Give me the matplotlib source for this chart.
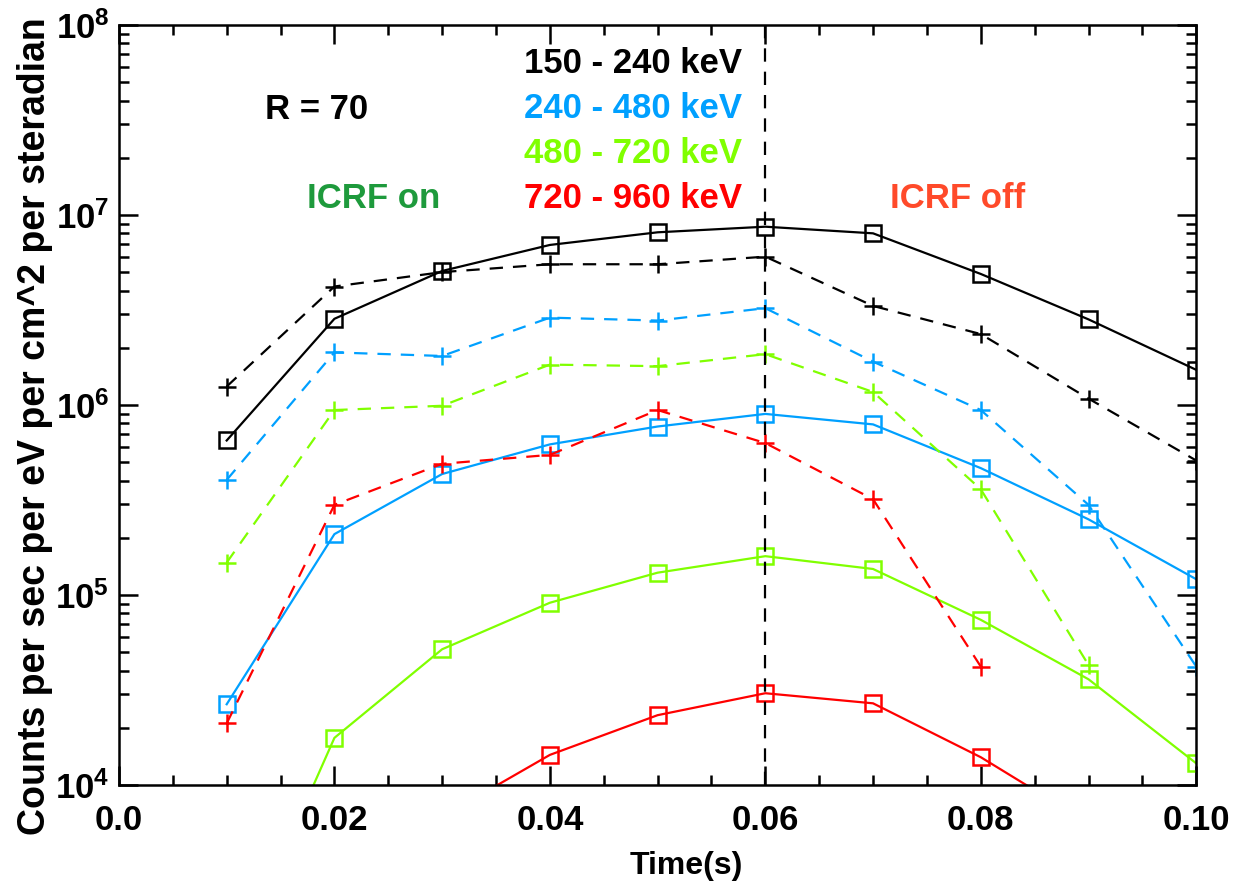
import matplotlib.pyplot as plt
import numpy as np
from matplotlib.ticker import MultipleLocator, LogLocator

plt.rcParams['font.family'] = ['Liberation Sans', 'DejaVu Sans']
plt.rcParams['font.weight'] = 'bold'
plt.rcParams['mathtext.default'] = 'bf'

time = np.array([0.01, 0.02, 0.03, 0.04, 0.05, 0.06, 0.07, 0.08, 0.09, 0.10])

# solid lines with squares
sq_150_240 = [6.5e5, 2.84e6, 5.07e6, 6.95e6, 8.1e6, 8.67e6, 8.0e6, 4.89e6, 2.82e6, 1.53e6]
sq_240_480 = [2.66e4, 2.09e5, 4.33e5, 6.2e5, 7.7e5, 8.97e5, 7.9e5, 4.65e5, 2.5e5, 1.21e5]
sq_480_720 = [9.3e2, 1.77e4, 5.18e4, 9.1e4, 1.31e5, 1.6e5, 1.37e5, 7.4e4, 3.6e4, 1.3e4]
sq_720_960 = [5e2, 2e3, 6.8e3, 1.44e4, 2.33e4, 3.04e4, 2.69e4, 1.4e4, 6.3e3, 2.5e3]

# dashed lines with plus markers
pl_150_240 = [1.25e6, 4.2e6, 5.0e6, 5.5e6, 5.5e6, 6.03e6, 3.32e6, 2.36e6, 1.08e6, 5.1e5]
pl_240_480 = [4.03e5, 1.89e6, 1.81e6, 2.88e6, 2.78e6, 3.23e6, 1.69e6, 9.4e5, 2.98e5, 4.2e4]
pl_480_720 = [1.48e5, 9.4e5, 9.9e5, 1.63e6, 1.6e6, 1.85e6, 1.17e6, 3.6e5, 4.28e4, np.nan]
pl_720_960 = [2.11e4, 2.98e5, 4.9e5, 5.46e5, 9.4e5, 6.3e5, 3.19e5, 4.2e4, np.nan, np.nan]

labels = ['150 - 240 keV', '240 - 480 keV', '480 - 720 keV', '720 - 960 keV']
colors = ['black', '#00a0ff', '#80ff00', '#ff0000']

fig = plt.figure(figsize=(12.34, 8.89), dpi=100)
ax = fig.add_axes([0.0964, 0.117, 0.873, 0.855])

squares = [sq_150_240, sq_240_480, sq_480_720, sq_720_960]
pluses = [pl_150_240, pl_240_480, pl_480_720, pl_720_960]
for sq, pl, c in zip(squares, pluses, colors):
    ax.plot(time, sq, color=c, lw=1.6, marker='s', ms=12, mfc='none', mec=c, mew=1.8)
    ax.plot(time, pl, color=c, lw=1.6, ls=(0, (6, 4.5)), marker='+', ms=13, mew=1.8)

ax.axvline(0.06, color='black', lw=1.6, ls=(0, (6, 4.5)))

ax.set_yscale('log')
ax.set_xlim(0.0, 0.10)
ax.set_ylim(1e4, 1e8)
ax.xaxis.set_minor_locator(MultipleLocator(0.005))
ax.yaxis.set_major_locator(LogLocator(base=10, numticks=10))
ax.yaxis.set_minor_locator(LogLocator(base=10, subs=np.arange(2, 10), numticks=20))
ax.set_xticks([0.0, 0.02, 0.04, 0.06, 0.08, 0.10])
ax.set_xticklabels(['0.0', '0.02', '0.04', '0.06', '0.08', '0.10'])

ax.tick_params(which='both', direction='in', top=True, right=True, width=1.8)
ax.tick_params(which='major', length=14)
ax.tick_params(which='minor', length=7)
ax.tick_params(axis='x', labelsize=25, pad=14)
ax.tick_params(axis='y', labelsize=25, pad=7)
for s in ax.spines.values():
    s.set_linewidth(1.8)

fig.text(686/1234, 1 - 866/889, 'Time(s)', fontsize=23, ha='center', va='center')
fig.text(35/1234, 1 - 426/889, 'Counts per sec per eV per cm^2 per steradian',
         fontsize=27, rotation=90, ha='center', va='center')

tr = ax.transAxes
ax.text((317 - 119)/1077, (785 - 119)/760, 'R = 70', fontsize=25, ha='center', va='baseline', transform=tr)
baselines = [73, 118, 163, 208]
for lab, c, b in zip(labels, colors, baselines):
    ax.text((742 - 119)/1077, (785 - b)/760, lab, color=c, fontsize=25, ha='right', va='baseline', transform=tr)
ax.text((374 - 119)/1077, (785 - 208)/760, 'ICRF on', color='#1e9a3c', fontsize=25,
        ha='center', va='baseline', transform=tr)
ax.text((957 - 119)/1077, (785 - 208)/760, 'ICRF off', color='#ff4a2a', fontsize=25,
        ha='center', va='baseline', transform=tr)

fig.savefig('out.png', dpi=100)
